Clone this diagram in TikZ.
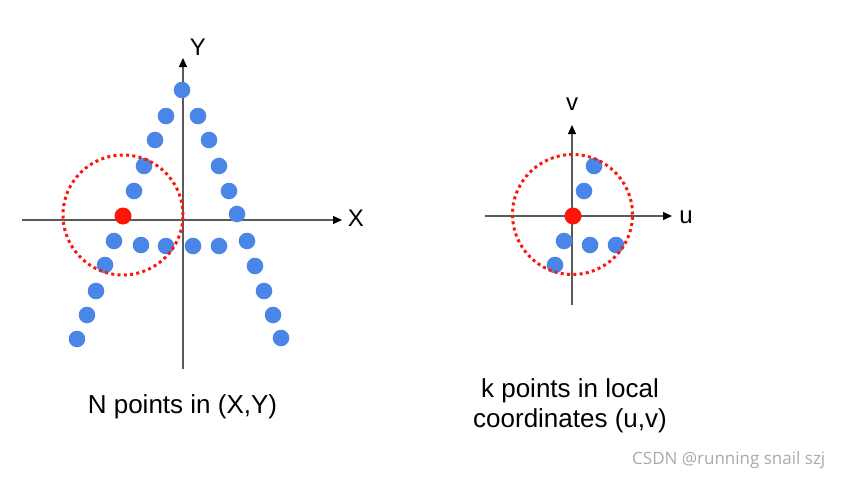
\documentclass[tikz,border=0pt]{standalone}
\usepackage{fontspec}
\setmainfont{Liberation Sans}
\newfontfamily\marcafont{Open Sans}
\usetikzlibrary{arrows.meta}
\definecolor{azulpunto}{RGB}{74,134,232}
\definecolor{rojopunto}{RGB}{255,22,10}
\definecolor{gris}{RGB}{90,90,90}
\definecolor{grismarca}{RGB}{170,170,170}

\begin{document}
\begin{tikzpicture}[x=1pt, y=-1pt,
  eje/.style={-{Triangle[length=9pt,width=8pt,black]},
              line width=1.3pt, draw=gris},
  punto/.style={fill=azulpunto},
  centro/.style={fill=rojopunto},
  vecindad/.style={draw=rojopunto, line width=3pt, dash pattern=on 3pt off 3.3pt},
  letra/.style={font=\fontsize{24}{28}\selectfont, inner sep=0pt},
  leyenda/.style={font=\fontsize{26}{30}\selectfont, align=center, inner sep=0pt}
]
  \useasboundingbox[fill=white] (0,0) rectangle (846,479);

  % ejes globales (X,Y)
  \coordinate (xini) at (22,220);  \coordinate (xfin) at (342,220);
  \coordinate (yini) at (183,369); \coordinate (yfin) at (183,58);
  \draw[eje] (xini) -- (xfin);
  \draw[eje] (yini) -- (yfin);
  \node[letra] (X) at (356,218) {X};
  \node[letra] (Y) at (198,47) {Y};

  % ejes locales (u,v)
  \coordinate (uini) at (485,216); \coordinate (ufin) at (672,216);
  \coordinate (vini) at (572,305); \coordinate (vfin) at (572,125);
  \draw[eje] (uini) -- (ufin);
  \draw[eje] (vini) -- (vfin);
  \node[letra] (u) at (686,217) {u};
  \node[letra] (v) at (572,104) {v};

  % la letra A
  \foreach \px/\py in {182/90, 166/116, 198/116, 155/140, 209/140, 144/166, 219/166,
                       134/191, 229/191, 237/214, 114/241, 141/245, 166/246, 193/246,
                       219/246, 247/241, 105/265, 255/266, 96/291, 264/291,
                       87/315, 273/315, 77/339, 281/338}
    \fill[punto] (\px,\py) circle[radius=8.3pt];
  \fill[centro] (123,216) circle[radius=8.5pt];
  \draw[vecindad] (123,215) circle[radius=60pt];

  % vecinos en coordenadas locales
  \foreach \px/\py in {594/166, 584/191, 564/241, 590/245, 616/245, 555/265}
    \fill[punto] (\px,\py) circle[radius=8.3pt];
  \fill[centro] (573,216) circle[radius=8.5pt];
  \draw[vecindad] (572.5,214.5) circle[radius=60pt];

  % textos
  \node[leyenda] (capN) at (182.5,407) {N points in (X,Y)};
  \node[leyenda] (capk) at (570,406) {k points in local\\coordinates (u,v)};
  \node[font=\marcafont\fontsize{17}{19}\selectfont, text=grismarca, inner sep=0pt,
        anchor=base west] (marca) at (632,464) {CSDN @running snail szj};
\end{tikzpicture}
\end{document}
